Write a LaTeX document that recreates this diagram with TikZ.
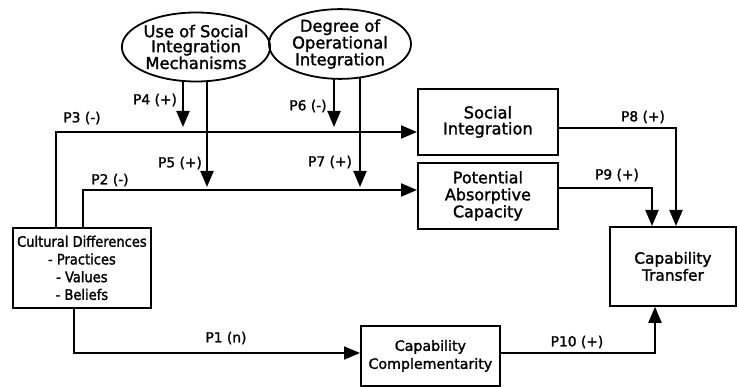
\documentclass[tikz,border=0pt]{standalone}
\usepackage{fontspec}
\setmainfont{DejaVu Sans}[FakeBold=1.6]
\newfontfamily\condfont{DejaVu Sans Condensed}[FakeBold=1.6]
\usetikzlibrary{arrows.meta,shapes.geometric}
\begin{document}
\begin{tikzpicture}[x=1pt,y=-1pt,
  every node/.style={font=\fontsize{14}{17}\selectfont, inner sep=0pt},
  box/.style={draw, line width=1.8pt, align=center, anchor=north west},
  oval/.style={draw, ellipse, line width=1.8pt, align=center, minimum width=142pt, minimum height=69pt, font=\fontsize{16.3}{15}\selectfont},
  arr/.style={line width=2pt, -{Triangle[length=16pt,width=13pt]}},
  lbl/.style={font=\fontsize{13.8}{16}\selectfont}]
\useasboundingbox (0,0) rectangle (737,387);
% ellipses
\node[oval] (e1) at (196,47) {Use of Social\\Integration\\Mechanisms};
\node[oval] (e2) at (340,44) {Degree of\\Operational\\Integration};
% boxes
\node[box, minimum width=140pt, minimum height=66pt, font=\fontsize{16.3}{16}\selectfont] (si) at (417,88) {Social\\Integration};
\node[box, minimum width=140pt, minimum height=66pt, font=\fontsize{16}{17}\selectfont] (pac) at (417,162) {Potential\\Absorptive\\Capacity};
\node[box, minimum width=126pt, minimum height=79pt, font=\fontsize{15.4}{17}\selectfont] (ct) at (609,226) {Capability\\Transfer};
\node[box, minimum width=138pt, minimum height=80pt, font=\condfont\fontsize{14.5}{17.7}\selectfont] (cd) at (12,227) {Cultural Differences\\- Practices\\- Values\\- Beliefs};
\node[box, minimum width=139pt, minimum height=60pt, font=\fontsize{14.2}{18}\selectfont] (cc) at (360,325) {Capability\\Complementarity};
% coordinates
\coordinate (p4) at (183,127);
\coordinate (p5) at (207,187);
\coordinate (p6) at (334,127);
\coordinate (p7) at (360,187);
\coordinate (p3c) at (56,132);
\coordinate (p2c) at (83,190);
\coordinate (p8c) at (676,128);
\coordinate (p9c) at (652,188);
\coordinate (p1c) at (74,353);
\coordinate (p10c) at (655,353);
% moderator arrows
\draw[arr] ([yshift=1pt]p4 |- e1.south) -- (p4);
\draw[arr] ([yshift=1pt]p5 |- e1.south) -- (p5);
\draw[arr] ([yshift=1pt]p6 |- e2.south) -- (p6);
\draw[arr] ([yshift=2pt]p7 |- e2.south) -- (p7);
% main paths
\draw[arr] (cd.north -| p3c) -- (p3c) -- (si.west |- p3c);
\draw[arr] (cd.north -| p2c) -- (p2c) -- (pac.west |- p2c);
\draw[arr] (si.east |- p8c) -- (p8c) -- (ct.north -| p8c);
\draw[arr] (pac.east |- p9c) -- (p9c) -- (ct.north -| p9c);
\draw[arr] (cd.south -| p1c) -- (p1c) -- (cc.west |- p1c);
\draw[arr] (cc.east |- p10c) -- (p10c) -- (ct.south -| p10c);
% labels
\node[lbl] (l4) at (155,100) {P4 (+)};
\node[lbl] (l3) at (82,118) {P3 (-)};
\node[lbl] (l6) at (308,106) {P6 (-)};
\node[lbl] (l5) at (180,163) {P5 (+)};
\node[lbl] (l7) at (330,162) {P7 (+)};
\node[lbl] (l2) at (110,180) {P2 (-)};
\node[lbl] (l8) at (643,117) {P8 (+)};
\node[lbl] (l9) at (617,175) {P9 (+)};
\node[lbl] (l1) at (226,338) {P1 (n)};
\node[lbl] (l10) at (577,342) {P10 (+)};
\end{tikzpicture}
\end{document}
